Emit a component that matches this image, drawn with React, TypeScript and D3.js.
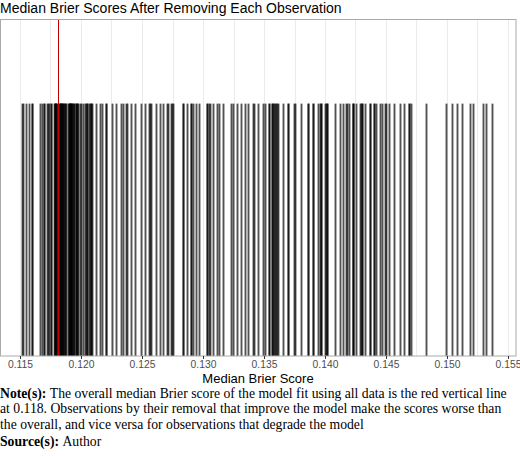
import React, { useEffect, useRef } from 'react';
import * as d3 from 'd3';

// median Brier score after removing each observation
const scoresLow = [
  0.11524, 0.11527, 0.11557, 0.11576, 0.11602, 0.11605, 0.11672, 0.11685,
  0.11697, 0.11700, 0.11722, 0.11730, 0.11738, 0.11755, 0.11762,
];
const scoresDense = [
  0.11783, 0.11787, 0.11791, 0.11795, 0.11799, 0.11803, 0.11811,
  0.11824, 0.11828, 0.11832, 0.11836, 0.11840, 0.11844, 0.11848, 0.11852,
  0.11856, 0.11860, 0.11864, 0.11869, 0.11877, 0.11885,
  0.11898, 0.11902, 0.11906, 0.11910, 0.11914, 0.11918, 0.11922, 0.11926,
  0.11930, 0.11934, 0.11938, 0.11943, 0.11947,
  0.11963, 0.11967, 0.11971, 0.11975, 0.11979,
  0.11996, 0.12008, 0.12020, 0.12033, 0.12041,
  0.12053, 0.12057, 0.12066, 0.12074, 0.12082, 0.12090, 0.12098,
];
const scoresMid = [
  0.12123, 0.12156, 0.12180, 0.12209, 0.12213, 0.12262, 0.12295, 0.12336,
  0.12352, 0.12369, 0.12385, 0.12418, 0.12443, 0.12492, 0.12525, 0.12562,
  0.12566, 0.12574, 0.12615, 0.12648, 0.12680, 0.12705, 0.12721, 0.12738,
  0.12754, 0.12757,
  0.12840, 0.12842, 0.12869, 0.12902, 0.12905, 0.12926, 0.12943, 0.12975,
  0.13033, 0.13035, 0.13057, 0.13060, 0.13082, 0.13115, 0.13139, 0.13164,
  0.13230, 0.13254, 0.13279, 0.13312, 0.13352, 0.13377, 0.13418, 0.13420,
  0.13451, 0.13492, 0.13516, 0.13541, 0.13543, 0.13566, 0.13570, 0.13578,
  0.13590, 0.13595, 0.13603, 0.13610, 0.13615, 0.13656, 0.13697, 0.13700,
  0.13746, 0.13762, 0.13811, 0.13861, 0.13863, 0.13902, 0.13904, 0.13943,
  0.13967, 0.13970, 0.13972, 0.14000, 0.14016, 0.14019, 0.14021, 0.14082,
  0.14123, 0.14148, 0.14180, 0.14182,
];
const scoresHigh = [
  0.14197, 0.14230, 0.14232, 0.14234, 0.14262, 0.14287, 0.14303, 0.14305,
  0.14307, 0.14336, 0.14369, 0.14373, 0.14402, 0.14404, 0.14426, 0.14451,
  0.14475, 0.14500, 0.14502, 0.14525, 0.14566, 0.14615, 0.14648, 0.14689,
  0.14691, 0.14705, 0.14828, 0.14992, 0.15047, 0.15082, 0.15129, 0.15194,
  0.15221, 0.15303, 0.15320, 0.15377,
];
const overallScore = 0.11818;
const xTicks = [0.115, 0.12, 0.125, 0.13, 0.135, 0.14, 0.145, 0.15, 0.155];
const minorTicks = [0.1175, 0.1225, 0.1275, 0.1325, 0.1375, 0.1425, 0.1475, 0.1525];

const title = 'Median Brier Scores After Removing Each Observation';
const xLabel = 'Median Brier Score';
const noteLines = [
  'The overall median Brier score of the model fit using all data is the red vertical line',
  'at 0.118. Observations by their removal that improve the model make the scores worse than',
  'the overall, and vice versa for observations that degrade the model',
];

const App = () => {
  const svgRef = useRef(null);

  useEffect(() => {
    document.body.style.margin = '0';
    const svg = d3.select(svgRef.current);
    svg.selectAll('*').remove();

    const panel = { left: 0.5, right: 516, top: 19.5, bottom: 356 };
    const x = d3.scaleLinear().domain([0.115, 0.155]).range([20, 508]);
    const y = d3.scaleLinear().domain([0, 1]).range([panel.bottom, panel.top]);
    const sans = 'Liberation Sans, Arial, sans-serif';
    const serif = 'Liberation Serif, Times New Roman, serif';

    svg.append('text')
      .attr('x', 0).attr('y', 13)
      .attr('font-family', sans).attr('font-size', 14)
      .text(title);

    // gridlines
    svg.append('g')
      .selectAll('line')
      .data([...xTicks, ...minorTicks])
      .join('line')
      .attr('x1', d => Math.round(x(d)) + 0.5).attr('x2', d => Math.round(x(d)) + 0.5)
      .attr('y1', panel.top).attr('y2', panel.bottom)
      .attr('stroke', '#ebebeb').attr('stroke-width', 1);

    // rug of scores
    const scores = [...scoresLow, ...scoresDense, ...scoresMid, ...scoresHigh];
    const px = d => Math.floor(x(d)) + 0.5;
    svg.append('g')
      .selectAll('line')
      .data(scores)
      .join('line')
      .attr('x1', px).attr('x2', px)
      .attr('y1', y(0)).attr('y2', y(0.75))
      .attr('stroke', '#000').attr('stroke-opacity', 0.68).attr('stroke-width', 1.9);

    svg.append('line')
      .attr('x1', px(overallScore)).attr('x2', px(overallScore))
      .attr('y1', y(1)).attr('y2', y(0))
      .attr('stroke', '#c00000').attr('stroke-width', 1);

    svg.append('rect')
      .attr('x', panel.left).attr('y', panel.top)
      .attr('width', panel.right - panel.left).attr('height', panel.bottom - panel.top)
      .attr('fill', 'none').attr('stroke', '#aaaaaa').attr('stroke-width', 1);

    const axis = svg.append('g')
      .attr('transform', `translate(0,${panel.bottom})`)
      .call(d3.axisBottom(x).tickValues(xTicks).tickFormat(d3.format('.3f')).tickSize(3).tickPadding(2));
    axis.select('.domain').remove();
    axis.selectAll('line').attr('stroke', '#333');
    axis.selectAll('text')
      .attr('font-family', sans).attr('font-size', 10.3).attr('fill', '#4d4d4d');

    svg.append('text')
      .attr('x', 258).attr('y', 383)
      .attr('text-anchor', 'middle')
      .attr('font-family', sans).attr('font-size', 13)
      .text(xLabel);

    const notes = svg.append('g').attr('font-family', serif).attr('font-size', 13.7);
    noteLines.forEach((line, i) => {
      const t = notes.append('text').attr('x', 0).attr('y', 398 + i * 15.3);
      if (i === 0) t.append('tspan').attr('font-weight', 'bold').text('Note(s): ');
      t.append('tspan').text(line);
    });
    const src = notes.append('text').attr('x', 0).attr('y', 446);
    src.append('tspan').attr('font-weight', 'bold').text('Source(s): ');
    src.append('tspan').text('Author');
  }, []);

  return <svg ref={svgRef} width={520} height={456} style={{ display: 'block' }} />;
};

export default App;
